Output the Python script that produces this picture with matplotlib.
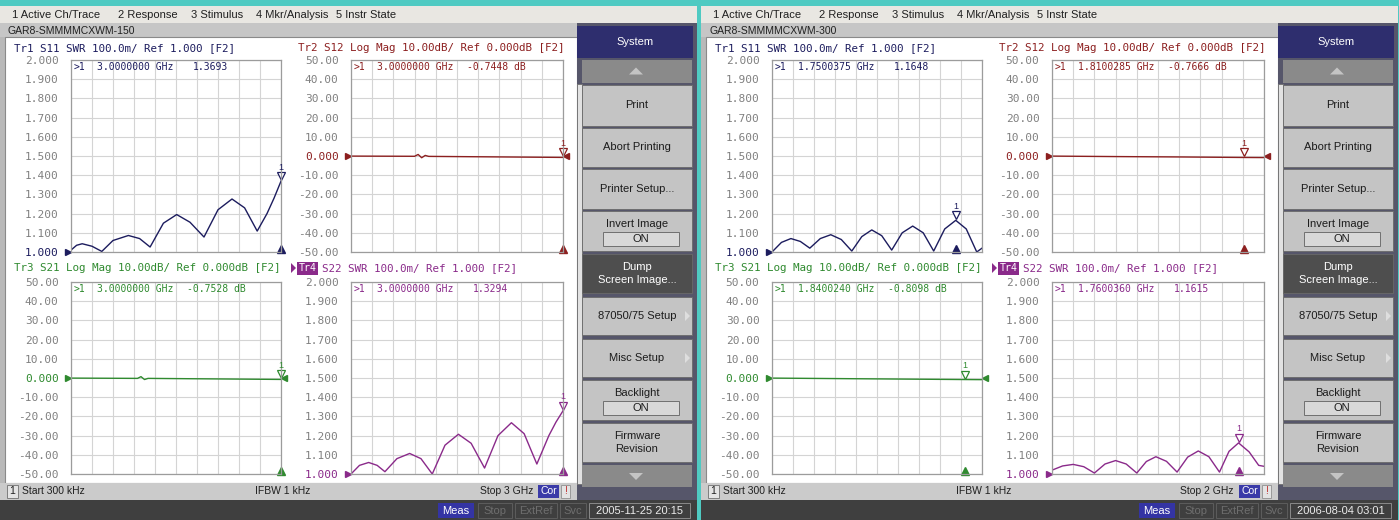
import matplotlib
matplotlib.use('Agg')
import matplotlib.pyplot as plt
from matplotlib.patches import Rectangle, Polygon
from matplotlib.transforms import offset_copy

W, H = 1399, 520

# ---- values ----
screen_names = ['GAR8-SMMMMCXWM-150', 'GAR8-SMMMMCXWM-300']
stop_ghz = [3, 2]
stop_labels = ['Stop 3 GHz', 'Stop 2 GHz']
timestamps = ['2005-11-25 20:15', '2006-08-04 03:01']
menu_items = ['1 Active Ch/Trace', '2 Response', '3 Stimulus', '4 Mkr/Analysis', '5 Instr State']

# screen 1 (sweep 300 kHz .. 3 GHz)
a_s11_f = [0.0, 0.08, 0.16, 0.3, 0.44, 0.6, 0.82, 0.98, 1.13, 1.32, 1.51, 1.7, 1.9,
           2.1, 2.3, 2.48, 2.66, 2.8, 2.9, 3.0]
a_s11_v = [1.010, 1.035, 1.043, 1.030, 1.003, 1.060, 1.086, 1.070, 1.026, 1.150, 1.195, 1.155, 1.078,
           1.220, 1.276, 1.230, 1.109, 1.200, 1.280, 1.369]
a_s12_f = [0.0, 0.9, 0.95, 1.0, 1.05, 1.1, 3.0]
a_s12_v = [-0.05, -0.15, 0.8, -0.9, 0.3, -0.2, -0.74]
a_s21_f = [0.0, 0.95, 1.0, 1.05, 1.1, 3.0]
a_s21_v = [-0.05, -0.2, 0.7, -0.8, -0.2, -0.75]
a_s22_f = [0.0, 0.12, 0.25, 0.37, 0.48, 0.65, 0.83, 0.99, 1.15, 1.33, 1.52, 1.7, 1.89,
           2.08, 2.27, 2.45, 2.63, 2.8, 2.9, 3.0]
a_s22_v = [1.000, 1.045, 1.060, 1.045, 1.012, 1.080, 1.107, 1.080, 1.000, 1.150, 1.207, 1.160, 1.031,
           1.200, 1.267, 1.210, 1.052, 1.200, 1.270, 1.329]
a_marker_f = [3.0, 3.0, 3.0, 3.0]
a_marker_v = [1.3693, -0.7448, -0.7528, 1.3294]

# screen 2 (sweep 300 kHz .. 2 GHz)
b_s11_f = [0.0, 0.09, 0.18, 0.27, 0.36, 0.46, 0.56, 0.66, 0.76, 0.855, 0.95, 1.045, 1.14,
           1.24, 1.34, 1.44, 1.54, 1.645, 1.75, 1.85, 1.95, 2.0]
b_s11_v = [1.000, 1.050, 1.070, 1.055, 1.020, 1.070, 1.090, 1.065, 1.005, 1.080, 1.115, 1.085, 1.010,
           1.100, 1.135, 1.100, 1.005, 1.120, 1.165, 1.120, 1.000, 1.020]
b_s12_f = [0.0, 0.6, 1.2, 1.81, 2.0]
b_s12_v = [-0.05, -0.3, -0.5, -0.77, -0.82]
b_s21_f = [0.0, 0.6, 1.2, 1.84, 2.0]
b_s21_v = [-0.05, -0.3, -0.55, -0.81, -0.86]
b_s22_f = [0.0, 0.1, 0.2, 0.3, 0.4, 0.5, 0.6, 0.7, 0.8, 0.89, 0.98, 1.08, 1.18,
           1.28, 1.38, 1.48, 1.58, 1.67, 1.76, 1.86, 1.95, 2.0]
b_s22_v = [1.020, 1.042, 1.050, 1.038, 1.005, 1.052, 1.070, 1.052, 1.005, 1.065, 1.090, 1.066, 1.010,
           1.088, 1.120, 1.090, 1.010, 1.118, 1.162, 1.115, 1.045, 1.040]
b_marker_f = [1.7500375, 1.8100285, 1.8400240, 1.7600360]
b_marker_v = [1.1648, -0.7666, -0.8098, 1.1615]

trace_ids = ['Tr1', 'Tr2', 'Tr3', 'Tr4']
trace_params = ['S11', 'S12', 'S21', 'S22']
trace_formats = ['swr', 'log', 'log', 'swr']
trace_colors = ['#1c1c5e', '#8c1f1f', '#2f8a2f', '#8a2a8a']

softkeys = [('System', 26, 58, 'head'), ('', 60, 83, 'up'), ('Print', 85, 126, 'btn'),
            ('Abort Printing', 128, 167, 'btn'), ('Printer Setup...', 169, 209, 'btn'),
            ('Invert Image', 211, 251, 'on'), ('Dump\nScreen Image...', 254, 293, 'dark'),
            ('87050/75 Setup', 297, 335, 'arrow'), ('Misc Setup', 339, 377, 'arrow'),
            ('Backlight', 380, 420, 'on'), ('Firmware\nRevision', 423, 462, 'btn'), ('', 465, 487, 'down')]

MONO = 'DejaVu Sans Mono'
SANS = 'Liberation Sans'

fig = plt.figure(figsize=(W / 100, H / 100), dpi=100, facecolor='#4fcac2')
bg = fig.add_axes([0, 0, 1, 1])
bg.set_xlim(0, W)
bg.set_ylim(H, 0)
bg.axis('off')


def rect(x, y, w, h, fc, ec='none', lw=0.8):
    bg.add_patch(Rectangle((x, y), w, h, facecolor=fc, edgecolor=ec, linewidth=lw))


def txt(x, y, s, size=8, color='#202020', ha='left', family=SANS, **kw):
    bg.text(x, y, s, fontsize=size, color=color, ha=ha, va='center', family=family, **kw)


def px_axes(x0, y0, x1, y1):
    return fig.add_axes([x0 / W, 1 - y1 / H, (x1 - x0) / W, (y1 - y0) / H])


def draw_plot(box, f, v, stop, fmt, color, mk_f, mk_v):
    ax = px_axes(*box)
    ax.set_facecolor('white')
    ax.set_xlim(0, stop)
    if fmt == 'swr':
        lo, hi, ref = 1.0, 2.0, 1.0
        ticks = [1.0 + 0.1 * i for i in range(11)]
        labels = ['%.3f' % t for t in ticks]
    else:
        lo, hi, ref = -50, 50, 0
        ticks = list(range(-50, 51, 10))
        labels = ['0.000' if t == 0 else '%.2f' % t for t in ticks]
    ax.set_ylim(lo, hi)
    ax.set_xticks([stop * i / 10 for i in range(11)])
    ax.set_xticklabels([])
    ax.set_yticks(ticks)
    ax.set_yticklabels(labels, family=MONO, fontsize=8)
    for t, lab in zip(ticks, ax.get_yticklabels()):
        lab.set_color(color if abs(t - ref) < 1e-9 else '#808080')
    ax.tick_params(length=0, pad=9)
    ax.grid(True, color='#d4d4d4', lw=0.8)
    for s in ax.spines.values():
        s.set_color('#9c9c9c')
        s.set_linewidth(0.9)
    ax.plot(f, v, color=color, lw=1.0)
    # reference level arrow on the left
    ax.plot([0], [ref], marker='>', color=color, ms=5, clip_on=False,
            transform=offset_copy(ax.transData, fig=fig, x=-3, units='dots'))
    if fmt == 'log':
        ax.plot([stop], [ref], marker='<', color=color, ms=5, clip_on=False,
                transform=offset_copy(ax.transData, fig=fig, x=3, units='dots'))
    # marker 1
    ax.plot([mk_f], [mk_v], marker='v', mfc='white', mec=color, mew=0.9, ms=6, clip_on=False,
            transform=offset_copy(ax.transData, fig=fig, y=5, units='dots'))
    ax.annotate('1', (mk_f, mk_v), xytext=(0, 14), textcoords='offset pixels', ha='center',
                va='center', fontsize=6.5, color=color, annotation_clip=False, family=SANS)
    ax.plot([mk_f], [lo], marker='^', color=color, ms=6, clip_on=False,
            transform=offset_copy(ax.transData, fig=fig, y=3, units='dots'))
    # marker readout
    unit = '' if fmt == 'swr' else ' dB'
    ax.annotate('>1', (0, 1), xycoords='axes fraction', xytext=(3, -7), textcoords='offset pixels',
                fontsize=7, family=MONO, color=color, va='center')
    ax.annotate('%.7f GHz' % mk_f, (0, 1), xycoords='axes fraction', xytext=(26, -7),
                textcoords='offset pixels', fontsize=7, family=MONO, color=color, va='center')
    ax.annotate('%.4f%s' % (mk_v, unit), (0, 1), xycoords='axes fraction',
                xytext=(122 if fmt == 'swr' else 116, -7), textcoords='offset pixels',
                fontsize=7, family=MONO, color=color, va='center')
    return ax


def draw_screen(ox, k, traces, mk_f, mk_v):
    stop = stop_ghz[k]
    sw = 697
    rect(ox, 6, sw, H - 6, '#b9b9b9')
    # menu bar and title bar
    rect(ox, 6, sw, 17, '#e9e7e2')
    for s, x in zip(menu_items, [12, 118, 191, 256, 336]):
        txt(ox + x, 14.5, s, size=8)
    rect(ox, 23, 577, 14, '#c6c6c6')
    txt(ox + 8, 30.5, screen_names[k], size=7.5)
    # display area
    rect(ox + 5, 37, 572, 446, 'white', ec='#8a8a8a')
    # softkey panel
    rect(ox + 577, 23, sw - 577, 477, '#56566a')
    rect(ox + 577, 84, 5, 400, '#e2e2e2', ec='#707070', lw=0.6)
    for label, y0, y1, kind in softkeys:
        if kind == 'head':
            rect(ox + 577, y0, 116, y1 - y0, '#2e2e6e')
            txt(ox + 635, (y0 + y1) / 2, label, size=8, color='white', ha='center')
            continue
        if kind in ('up', 'down'):
            rect(ox + 582, y0, 110, y1 - y0, '#8a8a8a')
            cy = (y0 + y1) / 2
            d = -1 if kind == 'up' else 1
            bg.add_patch(Polygon([(ox + 629, cy - 3 * d), (ox + 643, cy - 3 * d), (ox + 636, cy + 4 * d)],
                                 closed=True, facecolor='#c4c4c4', edgecolor='none'))
            continue
        fc = '#4e4e4e' if kind == 'dark' else '#c4c4c4'
        tc = 'white' if kind == 'dark' else '#1c1c1c'
        rect(ox + 582, y0, 110, y1 - y0, fc, ec='#6a6a6a', lw=0.6)
        cy = (y0 + y1) / 2
        if kind == 'on':
            txt(ox + 637, cy - 7, label, size=8, color=tc, ha='center')
            rect(ox + 603, cy + 1, 76, 14, '#d8d8d8', ec='#707070', lw=0.7)
            txt(ox + 641, cy + 8, 'ON', size=8, color=tc, ha='center')
        elif kind == 'arrow':
            txt(ox + 637, cy, label, size=8, color=tc, ha='center')
            bg.add_patch(Polygon([(ox + 685, cy - 5), (ox + 690, cy), (ox + 685, cy + 5)],
                                 closed=True, facecolor='#dedede', edgecolor='none'))
        else:
            txt(ox + 637, cy, label, size=8, color=tc, ha='center', linespacing=1.45)
    # status bar
    rect(ox, 483, 577, 17, '#cbcbcb')
    rect(ox + 7, 485, 11, 13, '#e4e4e4', ec='#707070', lw=0.6)
    txt(ox + 12.5, 491.5, '1', size=7.5, ha='center')
    txt(ox + 22, 491.5, 'Start 300 kHz', size=7.5)
    txt(ox + 255, 491.5, 'IFBW 1 kHz', size=7.5)
    txt(ox + 533, 491.5, stop_labels[k], size=7.5, ha='right')
    rect(ox + 538, 485, 21, 13, '#3a3aa8')
    txt(ox + 548.5, 491.5, 'Cor', size=7.5, color='white', ha='center')
    rect(ox + 561, 485, 9, 13, '#e4e4e4', ec='#909090', lw=0.6)
    txt(ox + 565.5, 491.5, '!', size=7.5, color='#c03030', ha='center')
    # bottom bar
    rect(ox, 500, sw, 20, '#3f3f3f')
    rect(ox + 438, 503, 36, 15, '#3434a4')
    txt(ox + 456, 510.5, 'Meas', size=8, color='white', ha='center')
    for s, x0, x1 in [('Stop', 478, 512), ('ExtRef', 515, 557), ('Svc', 560, 586)]:
        rect(ox + x0, 503, x1 - x0, 15, '#3f3f3f', ec='#5c5c5c', lw=0.7)
        txt(ox + (x0 + x1) / 2, 510.5, s, size=8, color='#6e6e6e', ha='center')
    rect(ox + 589, 503, 101, 15, '#3f3f3f', ec='#8a8a8a', lw=0.7)
    txt(ox + 639.5, 510.5, timestamps[k], size=8, color='#ececec', ha='center')

    # four trace windows
    boxes = [(71, 60, 281, 252), (351, 60, 563, 252), (71, 282, 281, 474), (351, 282, 563, 474)]
    title_y = [48, 48, 268, 268]
    title_x = [14, 298, 14, 318]
    for i in range(4):
        x0, y0, x1, y1 = boxes[i]
        f, v = traces[i]
        color = trace_colors[i]
        draw_plot((ox + x0, y0, ox + x1, y1), f, v, stop, trace_formats[i], color, mk_f[i], mk_v[i])
        if trace_formats[i] == 'swr':
            rest = 'SWR 100.0m/ Ref 1.000 [F2]'
        else:
            rest = 'Log Mag 10.00dB/ Ref 0.000dB [F2]'
        if i == 3:
            bg.add_patch(Polygon([(ox + 291, title_y[i] - 5), (ox + 296, title_y[i]), (ox + 291, title_y[i] + 5)],
                                 closed=True, facecolor=color, edgecolor='none'))
            rect(ox + 297, title_y[i] - 6.5, 21, 13, color)
            txt(ox + 307.5, title_y[i], 'Tr4', size=7.2, color='white', family=MONO, ha='center')
            txt(ox + 322, title_y[i], trace_params[i] + ' ' + rest, size=7.8, color=color, family=MONO)
        else:
            txt(ox + title_x[i], title_y[i], '%s %s %s' % (trace_ids[i], trace_params[i], rest),
                size=7.8, color=color, family=MONO)


draw_screen(0, 0, [(a_s11_f, a_s11_v), (a_s12_f, a_s12_v), (a_s21_f, a_s21_v), (a_s22_f, a_s22_v)],
            a_marker_f, a_marker_v)
draw_screen(701, 1, [(b_s11_f, b_s11_v), (b_s12_f, b_s12_v), (b_s21_f, b_s21_v), (b_s22_f, b_s22_v)],
            b_marker_f, b_marker_v)

fig.savefig('out.png', dpi=100, facecolor=fig.get_facecolor())
